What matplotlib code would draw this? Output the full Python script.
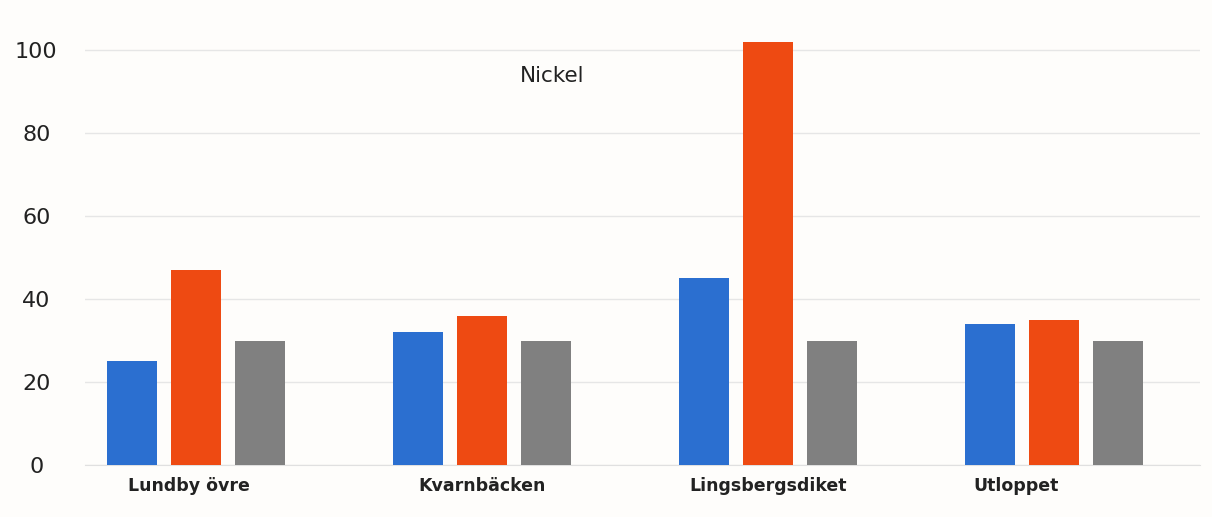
import matplotlib
matplotlib.use("Agg")
import matplotlib.pyplot as plt
import matplotlib.transforms as mtransforms
import numpy as np

categories = ["Lundby övre", "Kvarnbäcken", "Lingsbergsdiket", "Utloppet"]
series_blue = [25, 32, 45, 34]
series_orange = [47, 36, 102, 35]
series_gray = [30, 30, 30, 30]
yticks = [0, 20, 40, 60, 80, 100]
title = "Nickel"

colors = ["#2b6fd0", "#ee4a12", "#808080"]

fig = plt.figure(figsize=(12.12, 5.17), dpi=100)
fig.patch.set_facecolor("#fefdfb")
ax = fig.add_axes([0.070, 0.1006, 0.920, 0.842])
ax.set_facecolor("#fefdfb")

x = np.arange(len(categories))
w = 0.175
off = 0.224
for i, (vals, c) in enumerate(zip([series_blue, series_orange, series_gray], colors)):
    ax.bar(x + (i - 1) * off, vals, width=w, color=c, zorder=3)

ax.set_xlim(-0.39, 3.51)
ax.set_ylim(0, 105)
ax.set_yticks(yticks)
ax.set_yticklabels([str(t) for t in yticks], fontsize=16, color="#222222", ha="center")
ax.tick_params(axis="y", length=0, pad=35)
ax.set_xticks(x)
ax.set_xticklabels(categories, fontsize=12.5, fontweight="bold", color="#222222")
ax.tick_params(axis="x", length=0, pad=9)
# Utloppet label sits left of its group centre
lbl = ax.get_xticklabels()[3]
lbl.set_transform(lbl.get_transform() + mtransforms.ScaledTranslation(-0.38, 0, fig.dpi_scale_trans))
lbl = ax.get_xticklabels()[0]
lbl.set_transform(lbl.get_transform() + mtransforms.ScaledTranslation(-0.07, 0, fig.dpi_scale_trans))

ax.grid(axis="y", color="#e6e6e6", linewidth=1.0, zorder=0)
for s in ["top", "right", "left"]:
    ax.spines[s].set_visible(False)
ax.spines["bottom"].set_color("#e0e0e0")

ax.text(0.39, 0.894, title, transform=ax.transAxes, fontsize=15.5, color="#222222", ha="left", va="center")

fig.savefig("out.png", dpi=100, facecolor=fig.get_facecolor())
